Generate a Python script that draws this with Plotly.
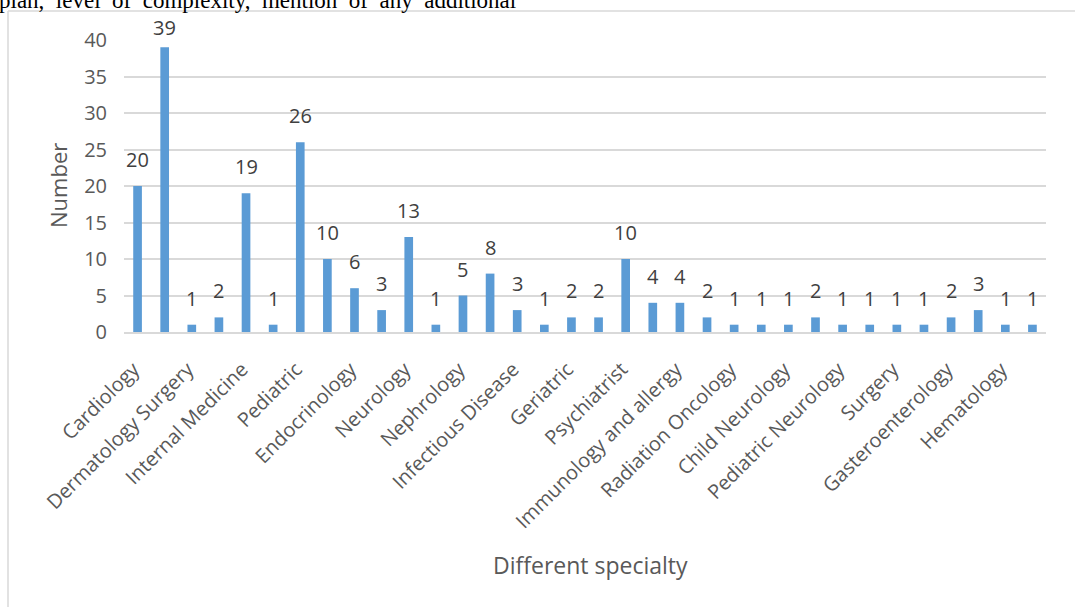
import plotly.graph_objects as go

# Number of items per specialty (every bar), in plotting order
counts = [20, 39, 1, 2, 19, 1, 26, 10, 6, 3, 13, 1, 5, 8, 3, 1, 2, 2,
          10, 4, 4, 2, 1, 1, 1, 2, 1, 1, 1, 1, 2, 3, 1, 1]

# Specialty names shown on the axis (one every second bar)
tick_labels = ["Cardiology", "Dermatology Surgery", "Internal Medicine",
               "Pediatric", "Endocrinology", "Neurology", "Nephrology",
               "Infectious Disease", "Geriatric", "Psychiatrist",
               "Immunology and allergy", "Radiation Oncology",
               "Child Neurology", "Pediatric Neurology", "Surgery",
               "Gasteroenterology", "Hematology"]

y_ticks = [0, 5, 10, 15, 20, 25, 30, 35, 40]

W, H = 1075, 607
L, R, T, B = 124, 29, 40, 275
pw, ph = W - L - R, H - T - B
Y_MAX = 40


def px(x):
    return (x - L) / pw


def py(y):
    return (H - B - y) / ph


FONT = "Open Sans"
BAR = "#5B9BD5"
GRID = "#D9D9D9"
TXT = "#595959"

positions = list(range(len(counts)))

fig = go.Figure()
fig.add_trace(go.Bar(x=positions, y=counts, marker=dict(color=BAR, line=dict(width=0)),
                     hoverinfo="x+y"))

annotations = []
for i, v in zip(positions, counts):
    # keep value labels inside the chart frame: tall bars get a tighter offset
    bar_top = T + ph * (1 - v / Y_MAX)
    shift = 11 if bar_top - 11 - 28 > 14 else 4
    annotations.append(dict(x=i, y=v, xref="x", yref="y", text=str(v), showarrow=False,
                            yanchor="bottom", yshift=shift,
                            font=dict(family=FONT, size=20, color="#404040")))

# axis titles
annotations.append(dict(x=px(58), y=py(186), xref="paper", yref="paper", text="Number",
                        textangle=-90, showarrow=False, xanchor="center", yanchor="middle",
                        font=dict(family=FONT, size=22, color=TXT)))
annotations.append(dict(x=px(590), y=py(565), xref="paper", yref="paper",
                        text="Different specialty", showarrow=False,
                        xanchor="center", yanchor="middle",
                        font=dict(family=FONT, size=23, color=TXT)))
# running text line of the surrounding page
annotations.append(dict(x=px(-3), y=py(15), xref="paper", yref="paper",
                        text="plan,  level  of  complexity,  mention  of  any  additional",
                        showarrow=False, xanchor="left", yanchor="bottom",
                        font=dict(family="Liberation Serif", size=23, color="black")))

shapes = [
    dict(type="line", xref="paper", yref="paper", x0=px(8), x1=px(1080), y0=py(11), y1=py(11),
         line=dict(color=GRID, width=1.5)),
    dict(type="line", xref="paper", yref="paper", x0=px(8), x1=px(8), y0=py(11), y1=py(610),
         line=dict(color=GRID, width=1.5)),
]

fig.update_layout(
    width=W, height=H,
    margin=dict(l=L, r=R, t=T, b=B, autoexpand=False),
    paper_bgcolor="white", plot_bgcolor="white",
    bargap=0.68, showlegend=False,
    annotations=annotations, shapes=shapes,
    font=dict(family=FONT, color=TXT),
    xaxis=dict(range=[-0.5, len(counts) - 0.5], tickvals=positions[::2], ticktext=tick_labels,
               tickangle=-45, showgrid=False, zeroline=False, showline=True,
               linecolor=GRID, linewidth=1.5, ticks="", automargin=False,
               ticklabelstandoff=16, ticklabelshift=-4,
               tickfont=dict(family=FONT, size=20, color=TXT)),
    yaxis=dict(range=[0, Y_MAX], tickvals=y_ticks, showgrid=True, gridcolor=GRID, gridwidth=1.5,
               zeroline=False, showline=False, ticks="", ticklabelstandoff=16,
               automargin=False, tickfont=dict(family=FONT, size=20, color=TXT)),
)

fig.write_html("out.html")
